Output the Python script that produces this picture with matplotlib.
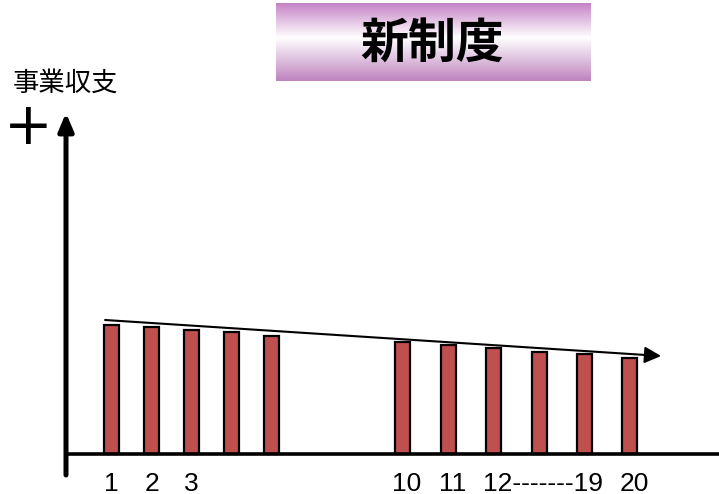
import matplotlib
matplotlib.use('Agg')
import matplotlib.pyplot as plt
import numpy as np

##########################################
## Data                                 ##
##########################################

tick_labels = ['1', '2', '3', '', '', '10', '11', '', '12-------19', '', '20']
# slot positions along the time axis (gap between year 5 and year 10)
slots = [1.0, 2.0, 3.0, 4.0, 5.0, 8.28, 9.42, 10.55, 11.69, 12.82, 13.96]
revenue = [128.5, 126.5, 123.5, 121.5, 117.5, 111.5, 108.5, 105.5, 101.5, 99.5, 95.5]

trend_x = [0.84, 14.74]
trend_y = [133.5, 97.5]

title = '新制度'
ylabel = '事業収支'

W, H = 719, 494
def fx(px):
    return px / W
def fy(py):
    return 1 - py / H

fig = plt.figure(figsize=(W / 100, H / 100), dpi=100)

##########################################
## Main chart                           ##
##########################################

ax = fig.add_axes([fx(66), fy(475), (W - 66) / W, (475 - 113) / H])
ax.set_xlim(-0.1375, 16.1875)
ax.set_ylim(-21.5, 340.5)
ax.axis('off')

ax.bar(slots, revenue, width=0.375, color='#C0504D', edgecolor='black',
       linewidth=1.6, zorder=3)

# x axis line
ax.axhline(0, color='black', lw=2.6, zorder=4)

# y axis arrow
ax.annotate('', xy=(0, 1), xytext=(0, 0), xycoords='axes fraction',
            textcoords='axes fraction',
            arrowprops=dict(arrowstyle='-|>,head_length=1.05,head_width=0.45',
                            lw=3.6, color='black', mutation_scale=10,
                            shrinkA=0, shrinkB=0),
            annotation_clip=False)

# trend arrow
ax.annotate('', xy=(trend_x[1], trend_y[1]), xytext=(trend_x[0], trend_y[0]),
            arrowprops=dict(arrowstyle='-|>,head_length=1.0,head_width=0.5',
                            lw=1.5, color='black', mutation_scale=10,
                            shrinkA=0, shrinkB=0),
            zorder=5)

for i, (x, lab) in enumerate(zip(slots, tick_labels)):
    if lab:
        shift = 0.1 if i >= 5 else 0.0
        ax.text(x + shift, -37, lab, ha='center', va='baseline', fontsize=19,
                family=['Liberation Sans', 'DejaVu Sans'], clip_on=False)

##########################################
## Labels and title box                 ##
##########################################

fig.text(fx(66), fy(83), ylabel, ha='center', va='center', fontsize=19,
         family=['Noto Sans CJK JP', 'DejaVu Sans'])
fig.text(fx(28), fy(127), '+', ha='center', va='center', fontsize=42,
         family=['DejaVu Sans'])

tax = fig.add_axes([fx(276), fy(81), (591 - 276) / W, (81 - 3) / H])
stops = np.array([0.0, 0.45, 1.0])
top = np.array([196, 128, 196]) / 255.0
mid = np.array([255, 255, 255]) / 255.0
bot = np.array([190, 132, 190]) / 255.0
t = np.linspace(0, 1, 100)
grad = np.zeros((100, 1, 3))
for c in range(3):
    grad[:, 0, c] = np.interp(t, stops, [top[c], mid[c], bot[c]])
tax.imshow(grad, aspect='auto', extent=[0, 1, 0, 1], origin='upper')
tax.set_xlim(0, 1)
tax.set_ylim(0, 1)
tax.axis('off')
fig.text(fx(432), fy(44), title, ha='center', va='center', fontsize=34.5,
         fontweight='bold', family=['Noto Sans CJK JP', 'DejaVu Sans'])

fig.savefig('out.png', dpi=100)
